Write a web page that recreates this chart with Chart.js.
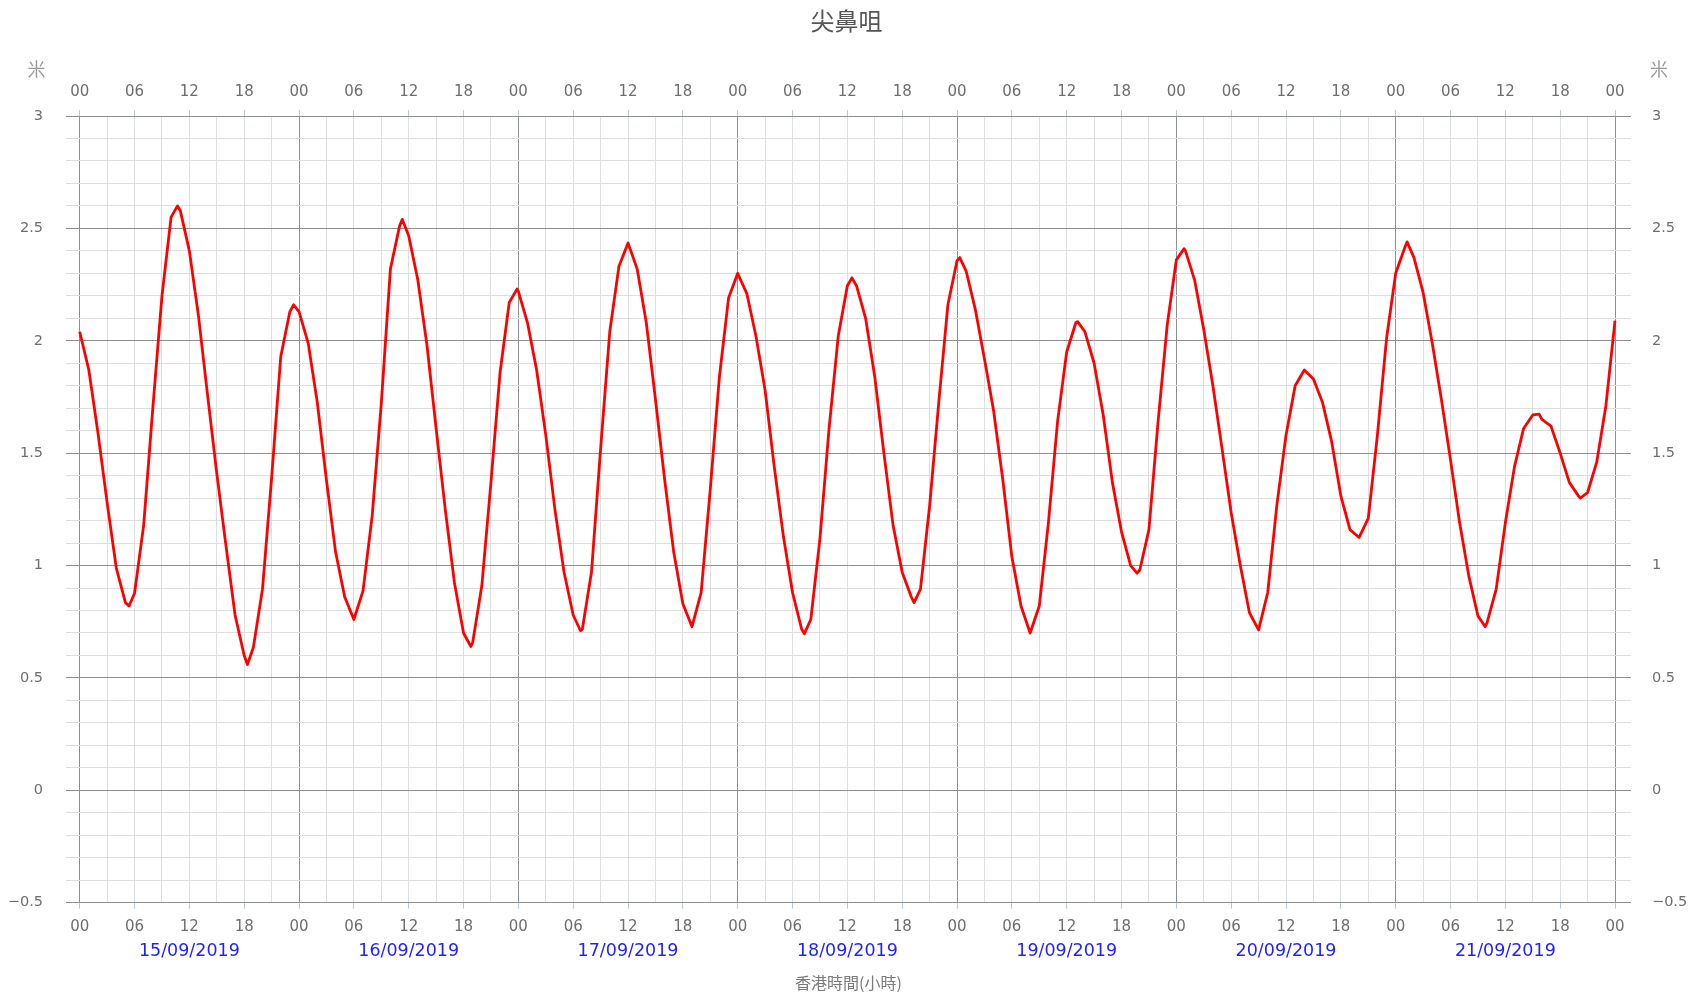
<!DOCTYPE html>
<html>
<head>
<meta charset="utf-8">
<script src="https://cdn.jsdelivr.net/npm/chart.js@4"></script>
<style>
  html, body { margin: 0; padding: 0; background: #fff; }
  #wrap { width: 1693px; height: 995px; position: relative; }
</style>
</head>
<body>
<div id="wrap"><canvas id="c"></canvas></div>
<script>
// ---- data (hours since 15/09/2019 00:00, tide height in metres) ----
const hours = [
  0,1,2,3,4,5,5.4,6,7,8,9,10,10.7,11,12,13,14,15,16,17,18,18.35,19,20,21,22,23,23.4,
  24,25,26,27,28,29,30,31,32,33,34,35,35.3,36,37,38,39,40,41,42,42.8,43,44,45,46,47,47.85,
  48,49,50,51,52,53,54,54.8,55,56,57,58,59,60,61,62,63,64,65,66,67,68,69,70,71,
  72,73,74,75,76,77,78,79,79.3,80,81,82,83,84,84.5,85,86,87,88,89,90,91,91.3,92,93,94,95,
  96,96.3,97,98,99,100,101,102,103,104,105,106,107,108,109,109.2,110,111,112,113,114,115,115.7,116,117,118,119,
  120,120.85,121,122,123,124,125,126,127,128,129,130,131,132,133,134,135,136,137,138,139,140,141,142,143,
  144,145,145.25,146,147,148,149,150,151,152,153,153.8,154,155,156,157,158,159,159.7,160,161,162,163,164,164.2,165,166,167,168
];
const heights = [
  2.04,1.87,1.59,1.28,0.99,0.835,0.82,0.877,1.18,1.70,2.20,2.55,2.60,2.58,2.40,2.11,1.755,1.41,1.09,0.78,0.60,0.56,0.635,0.895,1.39,1.93,2.13,2.16,
  2.13,1.99,1.725,1.38,1.06,0.86,0.76,0.887,1.22,1.72,2.32,2.51,2.54,2.467,2.27,1.98,1.61,1.25,0.925,0.70,0.64,0.657,0.91,1.37,1.86,2.17,2.23,
  2.22,2.08,1.87,1.58,1.25,0.97,0.78,0.71,0.717,0.97,1.52,2.04,2.33,2.435,2.32,2.08,1.74,1.385,1.06,0.83,0.728,0.88,1.34,1.84,2.19,
  2.30,2.21,2.02,1.78,1.44,1.13,0.88,0.717,0.697,0.76,1.12,1.61,2.02,2.245,2.28,2.245,2.10,1.84,1.50,1.18,0.97,0.86,0.835,0.895,1.265,1.725,2.16,
  2.356,2.37,2.31,2.14,1.92,1.69,1.385,1.04,0.82,0.70,0.82,1.19,1.64,1.95,2.08,2.085,2.04,1.90,1.67,1.37,1.15,1.0,0.966,0.98,1.16,1.64,2.07,
  2.36,2.41,2.40,2.27,2.05,1.80,1.52,1.235,1.0,0.79,0.714,0.88,1.27,1.58,1.80,1.87,1.83,1.725,1.55,1.31,1.16,1.125,1.21,1.58,2.01,
  2.30,2.415,2.44,2.37,2.215,1.99,1.74,1.47,1.19,0.954,0.776,0.728,0.746,0.895,1.19,1.44,1.61,1.67,1.674,1.65,1.62,1.50,1.37,1.31,1.30,1.325,1.46,1.71,2.09
];

// ---- labels ----
const chartTitle = '尖鼻咀';
const unitLabel = '米';
const xAxisTitle = '香港時間(小時)';
const hourLabels = ['00', '06', '12', '18'];
const dateLabels = ['15/09/2019', '16/09/2019', '17/09/2019', '18/09/2019', '19/09/2019', '20/09/2019', '21/09/2019'];
const yMajorValues = [-0.5, 0, 0.5, 1, 1.5, 2, 2.5, 3];
const yMajorLabels = ['\u22120.5', '0', '0.5', '1', '1.5', '2', '2.5', '3'];

// ---- styling ----
const MAJOR = '#8f8f8f';
const MINOR = '#dedede';
const TICKMARK = '#b3c7e0';
const TEXT = '#6e6e6e';
const LATIN = '"DejaVu Sans", Verdana, sans-serif';
const CJK = '"Noto Sans CJK TC", "Noto Sans CJK SC", sans-serif';

const hourTickValues = [];
for (let h = 0; h <= 168; h += 3) hourTickValues.push(h);
const dateTickValues = dateLabels.map((_, i) => 12 + 24 * i);
const yTickValues = [];
for (let i = 0; i <= 35; i++) yTickValues.push(Math.round((-0.5 + i * 0.1) * 10) / 10);

const isMajorY = v => yMajorValues.some(m => Math.abs(m - v) < 1e-6);
const yLabel = v => { const i = yMajorValues.findIndex(m => Math.abs(m - v) < 1e-6); return i >= 0 ? yMajorLabels[i] : ''; };
const hourLabel = v => (v % 6 === 0 ? hourLabels[(v % 24) / 6] : '');

function hourAxis(position, padding, height, onArea) {
  return {
    type: 'linear', position: position, min: -1.5, max: 169.75,
    afterBuildTicks: s => { s.ticks = hourTickValues.map(v => ({ value: v })); },
    afterFit: s => { s.height = height; },
    border: { display: false },
    grid: {
      drawOnChartArea: onArea, drawTicks: true, tickLength: 6, lineWidth: 1,
      color: c => (c.tick && c.tick.value % 24 === 0 ? MAJOR : MINOR),
      tickColor: c => (c.tick && c.tick.value % 6 === 0 ? TICKMARK : 'rgba(0,0,0,0)')
    },
    ticks: {
      autoSkip: false, maxRotation: 0, minRotation: 0, padding: padding,
      color: TEXT, font: { family: LATIN, size: 15 },
      callback: v => hourLabel(v)
    }
  };
}

function yAxis(position, padding, width, onArea) {
  return {
    type: 'linear', position: position, min: -0.5, max: 3,
    afterBuildTicks: s => { s.ticks = yTickValues.map(v => ({ value: v })); },
    afterFit: s => { s.width = width; },
    border: { display: false },
    grid: {
      drawOnChartArea: onArea, drawTicks: false, lineWidth: 1,
      color: c => (c.tick && isMajorY(c.tick.value) ? MAJOR : MINOR)
    },
    ticks: {
      autoSkip: false, padding: padding, color: TEXT,
      font: { family: LATIN, size: 14.5 },
      callback: v => yLabel(v)
    }
  };
}

const unitPlugin = {
  id: 'unitLabels',
  afterDraw(chart) {
    const ctx = chart.ctx;
    const yl = chart.scales.y, yr = chart.scales.y2, area = chart.chartArea;
    ctx.save();
    ctx.font = '18px ' + CJK;
    ctx.fillStyle = '#9a9a9a';
    ctx.textAlign = 'center';
    ctx.textBaseline = 'middle';
    ctx.fillText(unitLabel, yl.left + 36.5, area.top - 47);
    ctx.fillText(unitLabel, yr.left + 28, area.top - 47);
    ctx.restore();
  }
};

new Chart(document.getElementById('c'), {
  type: 'line',
  data: {
    datasets: [{
      data: hours.map((h, i) => ({ x: h, y: heights[i] })),
      borderColor: '#ff0000', borderWidth: 2.8, pointRadius: 0,
      tension: 0, fill: false, borderJoinStyle: 'round'
    }]
  },
  options: {
    responsive: true, maintainAspectRatio: false, animation: false,
    layout: { padding: 0 },
    plugins: {
      legend: { display: false },
      tooltip: { enabled: false },
      title: {
        display: true, text: chartTitle, color: '#555555',
        font: { family: CJK, size: 24, weight: 'normal' },
        padding: { top: 6, bottom: 0 }
      }
    },
    scales: {
      x: hourAxis('bottom', 9.3, 30, true),
      xTop: hourAxis('top', 8.6, 81.2, false),
      xDate: {
        type: 'linear', position: 'bottom', weight: 1, min: -1.5, max: 169.75,
        afterBuildTicks: s => { s.ticks = dateTickValues.map(v => ({ value: v })); },
        afterFit: s => { s.height = 62.3; },
        border: { display: false },
        grid: { display: false, drawTicks: false, drawOnChartArea: false },
        ticks: {
          autoSkip: false, maxRotation: 0, minRotation: 0, padding: 7.8,
          color: '#1f1fff', font: { family: LATIN, size: 17.5 },
          callback: (v, i) => dateLabels[i]
        },
        title: {
          display: true, text: xAxisTitle, color: '#7a7a7a',
          font: { family: CJK, size: 16 }, padding: { top: 0, bottom: 2.4 }
        }
      },
      y: yAxis('left', 23, 66, true),
      y2: yAxis('right', 21, 62, false)
    }
  },
  plugins: [unitPlugin]
});
</script>
</body>
</html>
